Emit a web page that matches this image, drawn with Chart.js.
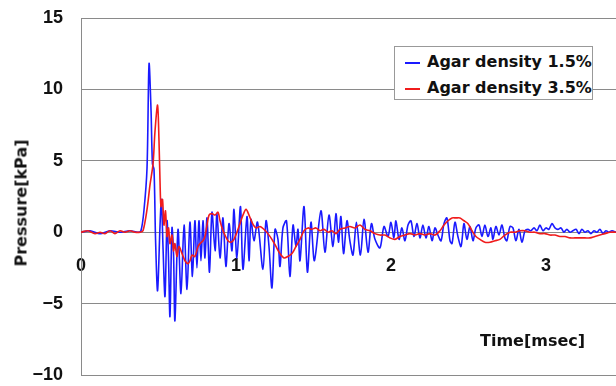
<!DOCTYPE html>
<html>
<head>
<meta charset="utf-8">
<script src="https://cdn.jsdelivr.net/npm/chart.js@4"></script>
<style>
  body { margin: 0; background: #fff; }
  #wrap { position: relative; width: 616px; height: 386px; }
  #legend {
    position: absolute; left: 394px; top: 46px; width: 197px; height: 52px;
    background: #fff; border: 1px solid #999; box-sizing: content-box;
    font: bold 16px "DejaVu Sans", sans-serif; color: #111;
  }
  #legend .row { position: absolute; left: 10px; height: 20px; line-height: 20px; white-space: nowrap; }
  #legend .swatch { display: inline-block; width: 15px; height: 2px; vertical-align: middle; margin-right: 7px; }
  #xtitle {
    position: absolute; left: 480px; top: 331px;
    font: bold 16px "DejaVu Sans", sans-serif; color: #111; white-space: nowrap;
  }
  #ytitle {
    position: absolute; left: 21px; top: 203px; width: 0; height: 0;
  }
  #ytitle span {
    position: absolute; transform: translate(-50%, -50%) rotate(-90deg);
    font: bold 16px "DejaVu Sans", sans-serif; color: #111; white-space: nowrap;
  }
</style>
</head>
<body>
<div id="wrap">
  <canvas id="chart" width="616" height="386"></canvas>
  <div id="legend"></div>
  <div id="xtitle">Time[msec]</div>
  <div id="ytitle"><span>Pressure[kPa]</span></div>
</div>
<script>
// series labels / colours
const seriesLabels = ['Agar density 1.5%', 'Agar density 3.5%'];
const seriesColors = ['#1a1aff', '#f01c1c'];

// axis ticks
const xTicks = [0, 1, 2, 3];
const yTicks = [-10, -5, 0, 5, 10, 15];

// [time (msec), pressure (kPa)]
const agar15 = [
  [0,0],[0.058,0.1],[0.123,-0.1],[0.187,0.1],[0.252,0],[0.316,0.1],[0.368,0],[0.387,0.1],
  [0.406,1.5],[0.426,4.5],[0.439,11.8],[0.452,8.5],[0.461,4.8],[0.471,4.4],[0.481,-0.5],
  [0.494,-4.1],[0.510,0.5],[0.519,2.3],[0.529,-1.0],[0.542,-4.5],[0.555,0.8],[0.565,-2.0],
  [0.574,-5.9],[0.587,0.3],[0.597,-1.5],[0.606,-6.2],[0.626,0.2],[0.645,-4.3],[0.665,0.5],
  [0.684,-4.0],[0.703,0.7],[0.719,-3.1],[0.735,0.8],[0.748,-2.5],[0.761,0.8],[0.774,-2.0],
  [0.787,0.8],[0.800,-1.8],[0.813,1.0],[0.829,-2.8],[0.845,1.4],[0.865,-1.3],[0.877,1.3],
  [0.897,-1.8],[0.916,1.0],[0.935,-2.4],[0.955,0.6],[0.974,-1.3],[0.987,1.6],[1.006,-1.8],
  [1.029,1.8],[1.045,-2.6],[1.071,1.1],[1.084,-2.0],[1.097,0.9],[1.116,-0.6],[1.139,0.7],
  [1.174,-2.6],[1.194,0.8],[1.213,-1.0],[1.232,-3.9],[1.252,0.2],[1.271,-0.5],[1.284,-2.4],
  [1.303,0.3],[1.326,0.8],[1.348,-3.1],[1.368,0.5],[1.387,-1.0],[1.400,0.2],[1.413,-2.0],
  [1.439,1.8],[1.461,-2.8],[1.484,0.7],[1.506,-2.0],[1.548,1.5],[1.574,-1.4],[1.600,1.2],
  [1.626,-1.0],[1.645,1.3],[1.661,-0.7],[1.677,1.1],[1.694,-1.5],[1.716,0.8],[1.735,-0.6],
  [1.755,-1.6],[1.777,0.7],[1.803,-1.6],[1.826,0.9],[1.852,-1.4],[1.874,0.6],[1.897,-0.5],
  [1.929,-1.1],[1.955,0.4],[1.981,-0.3],[2.000,0.7],[2.019,-0.4],[2.032,0.8],[2.052,-0.5],
  [2.071,0.3],[2.090,-0.6],[2.110,0.5],[2.129,0.8],[2.148,-0.3],[2.168,0.6],[2.187,-0.4],
  [2.206,0.5],[2.226,-0.4],[2.245,0.4],[2.265,-0.6],[2.284,0.3],[2.303,-0.2],[2.323,-0.6],
  [2.342,0.6],[2.361,1.0],[2.381,-0.6],[2.394,-0.8],[2.413,0.7],[2.432,-0.3],[2.452,-1.0],
  [2.471,0.6],[2.490,-0.5],[2.510,0.4],[2.529,-0.6],[2.548,0.3],[2.568,0.5],[2.587,-0.3],
  [2.606,0.5],[2.626,-0.3],[2.645,0.3],[2.658,-0.5],[2.677,0.4],[2.697,-0.2],[2.716,0.5],
  [2.735,-0.4],[2.748,-0.6],[2.768,0.4],[2.787,0.3],[2.806,-0.6],[2.826,0.2],[2.845,-0.7],
  [2.865,0.1],[2.884,0.2],[2.903,0.1],[2.923,0.3],[2.942,0.1],[2.961,0.5],[2.981,0.1],
  [3.000,0.3],[3.019,0.2],[3.039,0.6],[3.058,0.3],[3.077,0.2],[3.097,0.3],[3.116,0.0],
  [3.135,0.2],[3.155,0.0],[3.174,0.1],[3.194,0.2],[3.213,-0.1],[3.232,0.2],[3.252,0.0],
  [3.271,0.1],[3.290,-0.1],[3.310,0.1],[3.329,0.0],[3.348,0.2],[3.368,-0.1],[3.387,0.1],
  [3.406,0.0],[3.426,0.1],[3.452,0.0]
];

const agar35 = [
  [0,0],[0.045,0.1],[0.090,-0.1],[0.123,0],[0.155,-0.1],[0.187,0.1],[0.219,-0.1],[0.252,0.1],
  [0.284,0],[0.316,0.1],[0.348,0],[0.381,0],[0.400,0.1],[0.426,1.6],[0.445,3.3],[0.465,4.8],
  [0.477,7.0],[0.494,8.9],[0.503,6.5],[0.510,3.5],[0.516,1.8],[0.526,2.3],[0.535,0.5],
  [0.545,1.5],[0.555,-0.3],[0.565,0.3],[0.574,-0.8],[0.587,-0.2],[0.597,-1.3],[0.606,-0.8],
  [0.619,-1.7],[0.632,-1.0],[0.652,-1.5],[0.671,-2.0],[0.690,-2.2],[0.703,-2.0],[0.716,-1.6],
  [0.735,-1.7],[0.755,-1.0],[0.768,-0.8],[0.787,-0.6],[0.800,-0.3],[0.813,0.5],[0.826,1.2],
  [0.845,1.3],[0.865,1.2],[0.884,1.4],[0.897,0.8],[0.910,0.3],[0.929,-0.2],[0.948,-0.6],
  [0.968,-0.7],[0.987,-0.5],[1.006,0],[1.026,0.6],[1.045,1.2],[1.065,1.6],[1.084,1.2],
  [1.103,0.7],[1.129,0.3],[1.155,0.4],[1.181,0.2],[1.206,-0.1],[1.232,-0.5],[1.258,-1.0],
  [1.284,-1.5],[1.310,-1.8],[1.335,-1.7],[1.361,-1.5],[1.387,-1.0],[1.413,-0.5],[1.439,0.1],
  [1.465,0.3],[1.487,0.2],[1.516,0.3],[1.542,0.1],[1.568,0.2],[1.594,0.0],[1.619,0.1],
  [1.645,-0.1],[1.671,0.2],[1.703,0.3],[1.735,0.4],[1.768,0.3],[1.800,0.5],[1.832,0.2],
  [1.865,0.1],[1.897,-0.1],[1.929,-0.2],[1.961,-0.2],[1.994,-0.4],[2.026,-0.5],[2.058,-0.3],
  [2.090,-0.2],[2.123,-0.1],[2.155,-0.2],[2.187,-0.1],[2.219,-0.2],[2.252,-0.1],[2.284,-0.2],
  [2.316,0.1],[2.342,0.5],[2.368,0.8],[2.394,1.0],[2.419,1.0],[2.445,1.0],[2.471,0.8],
  [2.497,0.6],[2.523,0.1],[2.548,-0.3],[2.574,-0.5],[2.606,-0.7],[2.639,-0.7],[2.671,-0.6],
  [2.703,-0.5],[2.735,-0.2],[2.768,0],[2.800,0],[2.832,0.1],[2.865,0.1],[2.897,0],[2.929,0],
  [2.961,-0.1],[2.994,-0.1],[3.026,-0.2],[3.058,-0.2],[3.090,-0.3],[3.123,-0.3],[3.155,-0.4],
  [3.187,-0.4],[3.219,-0.4],[3.252,-0.4],[3.284,-0.4],[3.316,-0.3],[3.348,-0.2],[3.381,-0.1],
  [3.413,0],[3.452,0]
];

const X_MAX = 3.452;
const GRID = '#8a8a8a';
const toPts = arr => arr.map(([x, y]) => ({ x, y }));

const datasets = [agar15, agar35].map((d, i) => ({
  label: seriesLabels[i],
  data: toPts(d),
  borderColor: seriesColors[i],
  borderWidth: 1.6,
  pointRadius: 0,
  tension: 0.3,
  order: i === 0 ? 1 : 0   // red drawn over blue
}));

new Chart(document.getElementById('chart'), {
  type: 'line',
  data: { datasets },
  options: {
    responsive: false,
    animation: false,
    layout: { padding: { top: 18, bottom: 11, left: 0, right: 0 } },
    plugins: { legend: { display: false }, tooltip: { enabled: false } },
    scales: {
      x: {
        type: 'linear',
        position: { y: 0 },
        min: 0, max: X_MAX,
        afterFit: s => { s.height = 0; s.paddingLeft = 0; s.paddingRight = 0; },
        grid: { display: false, drawTicks: false },
        border: { display: false },
        afterBuildTicks: s => { s.ticks = xTicks.map(v => ({ value: v })); },
        ticks: {
          padding: 23, color: '#111', maxRotation: 0,
          font: { family: 'Liberation Sans', size: 18, weight: 'bold' }
        }
      },
      y: {
        min: -10, max: 15,
        afterFit: s => { s.width = 81; s.paddingTop = 0; s.paddingBottom = 0; },
        afterBuildTicks: s => { s.ticks = yTicks.map(v => ({ value: v })); },
        grid: { color: GRID, lineWidth: 1, drawTicks: false },
        border: { color: GRID },
        ticks: {
          padding: 18, color: '#111',
          callback: v => (v < 0 ? '\u2212' + Math.abs(v) : v),
          font: { family: 'Liberation Sans', size: 18, weight: 'bold' }
        }
      }
    }
  }
});

// legend box built from the series arrays
const legendEl = document.getElementById('legend');
seriesLabels.forEach((lab, i) => {
  const row = document.createElement('div');
  row.className = 'row';
  row.style.top = (5 + i * 26) + 'px';
  row.innerHTML = '<span class="swatch" style="background:' + seriesColors[i] + '"></span>' + lab;
  legendEl.appendChild(row);
});
</script>
</body>
</html>
